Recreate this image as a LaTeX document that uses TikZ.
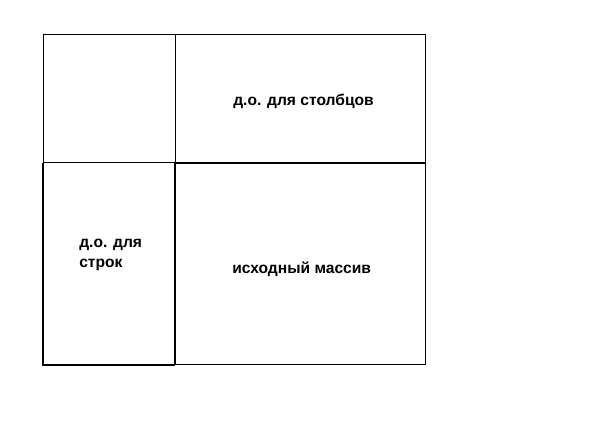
\documentclass[tikz,border=0pt]{standalone}
\usepackage{fontspec}
\setmainfont{Liberation Sans}
\usetikzlibrary{positioning}
\tikzset{thinline/.style={line width=0.75pt}, thickline/.style={line width=1.6pt}, lbl/.style={font=\fontsize{11.7}{15}\selectfont\bfseries, inner sep=0pt, anchor=west, align=left}}
\begin{document}
\begin{tikzpicture}[x=0.75pt,y=0.75pt,yscale=-1,xscale=1]
\useasboundingbox (0,0) rectangle (610,448);

%Shape: Rectangle [top left]
\draw [thinline] (43,35) rectangle (175,163) ;
%Shape: Rectangle [top right]
\draw [thinline] (175,35) rectangle (425,163) ;
%Shape: Rectangle [bottom left]
\draw [thinline] (43,163) rectangle (175,365) ;
%Shape: Rectangle [bottom right]
\draw [thinline] (175,163) rectangle (425,365) ;
%Straight Lines [thick edges]
\draw [thickline] (43,163) -- (43,365) -- (175,365) ;
\draw [thickline] (175,365) -- (175,163) -- (425,163) ;

\node [lbl] (cols) at (233,101) {д.о. для столбцов};
\node [lbl] (rows) at (79,255) {д.о. для\\строк};
\node [lbl] (src) at (232,269) {исходный массив};
\end{tikzpicture}
\end{document}
